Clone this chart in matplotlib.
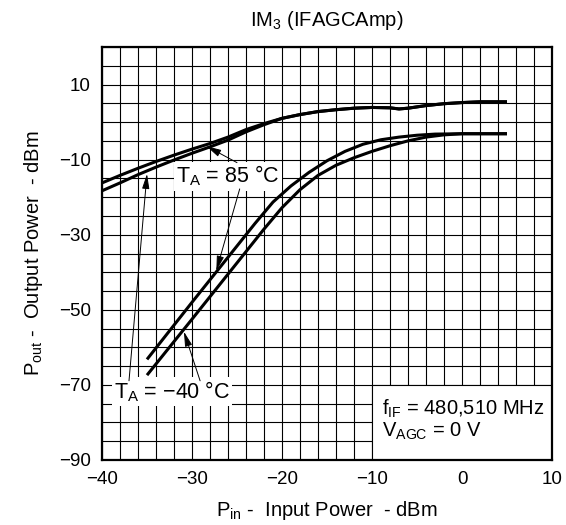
import numpy as np
import matplotlib
matplotlib.use("Agg")
import matplotlib.pyplot as plt
from matplotlib.patches import Rectangle

plt.rcParams["font.family"] = ["Liberation Sans", "DejaVu Sans"]
plt.rcParams["mathtext.fontset"] = "custom"
plt.rcParams["mathtext.rm"] = "Liberation Sans"

# upper pair (left curves)
pin_a = [-40, -38, -36, -34, -32, -30, -28, -26, -24, -22, -20, -18, -16, -14,
         -12, -10, -8, -7, -6, -4, -2, 0, 2, 5]
pout_a = [-16.2, -14.2, -12.3, -10.5, -8.8, -7.2, -5.7, -4.0, -2.0, -0.4, 1.0, 2.0,
          2.8, 3.3, 3.7, 3.9, 3.8, 3.5, 3.7, 4.4, 4.9, 5.2, 5.4, 5.4]
pin_b = [-40, -38, -36, -34, -32, -30, -28, -26, -24, -22, -20, -18, -16, -14,
         -12, -10, -8, -7, -6, -4, -2, 0, 2, 5]
pout_b = [-18.3, -16.2, -14.0, -12.0, -10.1, -8.3, -6.6, -4.8, -2.6, -0.7, 1.0, 2.0,
          2.8, 3.3, 3.7, 3.9, 3.8, 3.5, 3.7, 4.4, 4.9, 5.2, 5.4, 5.4]

# lower pair (steep IM3 curves)
pin_c = [-35, -30, -25, -23, -21, -19, -17, -15, -13, -11, -9, -7, -5, -3, 0, 2, 5]
pout_c = [-63.2, -48.0, -33.0, -27.0, -21.3, -17.0, -13.4, -10.3, -7.8, -5.9, -4.7,
          -4.0, -3.5, -3.2, -3.1, -3.1, -3.1]
pin_d = [-35, -30, -25, -22, -20, -18, -16, -14, -12, -10, -8, -6, -4, -2, 0, 2, 5]
pout_d = [-67.4, -52.5, -37.5, -28.5, -22.8, -18.0, -14.2, -11.5, -9.5, -7.8, -6.3,
          -5.0, -4.0, -3.4, -3.1, -3.1, -3.1]

xticks = [-40, -30, -20, -10, 0, 10]
xtick_labels = ["\u221240", "\u221230", "\u221220", "\u221210", "0", "10"]
yticks = [10, -10, -30, -50, -70, -90]
ytick_labels = ["10", "\u221210", "\u221230", "\u221250", "\u221270", "\u221290"]

fig = plt.figure(figsize=(5.66, 5.25), dpi=100)
ax = fig.add_axes([102 / 566, 1 - 460 / 525, 450 / 566, 413 / 525])
ax.set_xlim(-40, 10)
ax.set_ylim(-90, 20)
ax.set_axisbelow(True)

ax.set_xticks(xticks)
ax.set_xticklabels(xtick_labels)
ax.set_yticks(yticks)
ax.set_yticklabels(ytick_labels)
ax.set_xticks(np.arange(-40, 11, 2), minor=True)
ax.set_yticks(np.arange(-90, 21, 5), minor=True)
ax.grid(which="both", color="k", lw=0.8)
ax.tick_params(which="both", length=0, labelsize=13.5, pad=8)
for s in ax.spines.values():
    s.set_linewidth(1.6)

for xs, ys in [(pin_a, pout_a), (pin_b, pout_b), (pin_c, pout_c), (pin_d, pout_d)]:
    ax.plot(xs, ys, color="k", lw=2.2, zorder=3, solid_capstyle="butt")

# parameter box bottom right
ax.add_patch(Rectangle((-10, -90), 20, 20, facecolor="white", edgecolor="k",
                       lw=0.8, zorder=1.5))
ax.text(-8.9, -76.5, "f$_{\\mathregular{IF}}$ = 480,510 MHz", fontsize=14.5,
        va="center", ha="left", zorder=4)
ax.text(-8.9, -82.5, "V$_{\\mathregular{AGC}}$ = 0 V", fontsize=14.5,
        va="center", ha="left", zorder=4)

box = dict(facecolor="white", edgecolor="none", pad=1.5)
ax.text(-26.0, -14.4, "T$_{\\mathregular{A}}$ = 85 \u00b0C", fontsize=15.5,
        ha="center", va="center", bbox=box, zorder=2.5)
ax.text(-32.2, -71.8, "T$_{\\mathregular{A}}$ = \u221240 \u00b0C", fontsize=15.5,
        ha="center", va="center", bbox=box, zorder=2.5)

arrow = dict(arrowstyle="-|>,head_length=0.9,head_width=0.22", color="k", lw=0.7,
             shrinkA=0, shrinkB=0, mutation_scale=10)
for start, tip in [((-25.0, -10.8), (-28.4, -6.4)),
                   ((-24.7, -17.8), (-27.3, -39.6)),
                   ((-37.0, -68.9), (-35.0, -13.8)),
                   ((-29.1, -68.9), (-30.9, -55.8))]:
    ax.annotate("", xy=tip, xytext=start, arrowprops=arrow, zorder=5)

fig.text(327 / 566, 1 - 21 / 525, "IM$_{\\mathregular{3}}$ (IFAGCAmp)", fontsize=14.5,
         ha="center", va="center")
ax.set_xlabel("P$_{\\mathregular{in}}$ -  Input Power  - dBm", fontsize=14.5, labelpad=8)
ax.set_ylabel("P$_{\\mathregular{out}}$ -  Output Power  - dBm", fontsize=14.5, labelpad=10)

fig.savefig("out.png", dpi=100)
